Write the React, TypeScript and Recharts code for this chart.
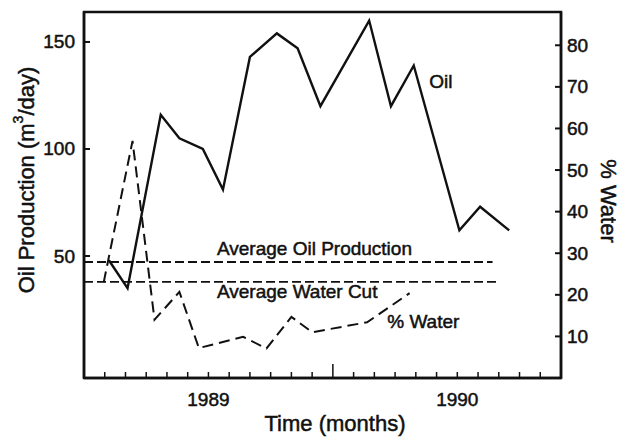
import React from "react";
import { ComposedChart, Line, XAxis, YAxis, ReferenceDot, ReferenceArea, Label } from "recharts";

// months counted from Jan 1989 (0 = 1989, 12 = 1990)
const oilMonths = [-4.8, -3.9, -2.3, -1.4, -0.27, 0.7, 2.0, 3.3, 4.3, 5.4, 7.75, 8.8, 9.9, 12.1, 13.1, 14.5];
const oilValues = [48, 35, 116, 105, 100, 81, 143, 154, 147, 120, 160, 120, 139, 62, 73, 62];

const waterMonths = [-5.05, -3.66, -2.6, -1.4, -0.46, 1.67, 2.8, 4.0, 5.0, 7.65, 9.7];
const waterValues = [23, 57, 14, 20.7, 7.2, 9.9, 7.1, 14.7, 11, 13.4, 20.4];

const avgOilValue = 47.2;
const avgOilSpan = [-6, 13.7];
const avgWaterValue = 23.1;
const avgWaterSpan = [-6, 14];

const monthTicks = [-5, -4, -3, -2, -1, 0, 1, 2, 3, 4, 5, 6, 7, 8, 9, 10, 11, 12, 13, 14, 15, 16];
const yearLabels: Record<number, string> = { 0: "1989", 12: "1990" };
const oilTicks = [50, 100, 150];
const waterTicks = [10, 20, 30, 40, 50, 60, 70, 80];

const oilData = oilMonths.map((m, i) => ({ m, v: oilValues[i] }));
const waterData = waterMonths.map((m, i) => ({ m, v: waterValues[i] }));
const avgOilData = avgOilSpan.map((m) => ({ m, v: avgOilValue }));
const avgWaterData = avgWaterSpan.map((m) => ({ m, v: avgWaterValue }));

const font = "'Liberation Sans', Arial, Helvetica, sans-serif";
const ink = "#111";
// scanned print looks heavier than a plain regular face
const heavy = { stroke: ink, strokeWidth: 0.5 };

const LeftTick = (props: any) => {
  const { x, y, payload } = props;
  return (
    <g>
      <line x1={x + 9} x2={x + 15} y1={y} y2={y} stroke={ink} strokeWidth={2} />
      <text x={x} y={y} textAnchor="end" dominantBaseline="central" fontSize={19} fontFamily={font} fill={ink} {...heavy}>
        {payload.value}
      </text>
    </g>
  );
};

const RightTick = (props: any) => {
  const { x, y, payload } = props;
  return (
    <g>
      <line x1={x - 6} x2={x - 12} y1={y} y2={y} stroke={ink} strokeWidth={2} />
      <text x={x} y={y} textAnchor="start" dominantBaseline="central" fontSize={19} fontFamily={font} fill={ink} {...heavy}>
        {payload.value}
      </text>
    </g>
  );
};

const MonthTick = (props: any) => {
  const { x, y, payload } = props;
  const len = payload.value === 6 ? 14 : 6;
  const label = yearLabels[payload.value];
  return (
    <g>
      <line x1={x} x2={x} y1={y} y2={y - len} stroke={ink} strokeWidth={1.5} />
      {label && (
        <text x={x} y={y + 28} textAnchor="middle" fontSize={19} fontFamily={font} fill={ink} {...heavy}>
          {label}
        </text>
      )}
    </g>
  );
};

const note = (text: string) => (p: any) => {
  const vb = p.viewBox || {};
  return (
    <text x={vb.x} y={vb.y} textAnchor="start" fontSize={19} fontFamily={font} fill={ink} {...heavy}>
      {text}
    </text>
  );
};

export default function App() {
  return (
    <div style={{ position: "absolute", left: 0, top: 0, background: "#fff" }}>
      <ComposedChart width={619} height={437} margin={{ top: 12, right: 0, bottom: 0, left: 0 }}>
        <XAxis
          dataKey="m"
          type="number"
          domain={[-6, 17]}
          ticks={monthTicks}
          interval={0}
          height={59}
          tickSize={0}
          tickMargin={0}
          tickLine={false}
          axisLine={{ stroke: ink, strokeWidth: 2.5 }}
          tick={<MonthTick />}
        >
          <Label
            content={() => (
              <text x={335} y={431} textAnchor="middle" fontSize={22} fontFamily={font} fill={ink} {...heavy}>
                Time (months)
              </text>
            )}
          />
        </XAxis>
        <YAxis
          yAxisId="left"
          orientation="left"
          type="number"
          domain={[-7, 164]}
          ticks={oilTicks}
          width={84}
          tickSize={0}
          tickMargin={9}
          tickLine={false}
          axisLine={{ stroke: ink, strokeWidth: 2.5 }}
          tick={<LeftTick />}
        >
          <Label
            content={() => (
              <text
                x={26}
                y={180}
                textAnchor="middle"
                dominantBaseline="central"
                fontSize={22}
                fontFamily={font}
                fill={ink}
                {...heavy}
                transform="rotate(-90, 26, 180)"
              >
                Oil Production (m<tspan dy={-8} fontSize={14}>3</tspan>
                <tspan dy={8}>/day)</tspan>
              </text>
            )}
          />
        </YAxis>
        <YAxis
          yAxisId="right"
          orientation="right"
          type="number"
          domain={[0, 88]}
          ticks={waterTicks}
          width={58}
          tickSize={0}
          tickMargin={6}
          tickLine={false}
          axisLine={{ stroke: ink, strokeWidth: 2.5 }}
          tick={<RightTick />}
        >
          <Label
            content={() => (
              <text
                x={608}
                y={201}
                textAnchor="middle"
                dominantBaseline="central"
                fontSize={22}
                fontFamily={font}
                fill={ink}
                {...heavy}
                transform="rotate(90, 608, 201)"
              >
                % Water
              </text>
            )}
          />
        </YAxis>

        <ReferenceArea yAxisId="left" x1={-6} x2={17} y1={-7} y2={164} fill="none" stroke={ink} strokeWidth={2.5} />

        <Line
          yAxisId="left"
          data={avgOilData}
          dataKey="v"
          type="linear"
          stroke={ink}
          strokeWidth={1.8}
          strokeDasharray="9 4"
          dot={false}
          activeDot={false}
          isAnimationActive={false}
        />
        <Line
          yAxisId="right"
          data={avgWaterData}
          dataKey="v"
          type="linear"
          stroke={ink}
          strokeWidth={1.8}
          strokeDasharray="9 4"
          dot={false}
          activeDot={false}
          isAnimationActive={false}
        />
        <Line
          yAxisId="right"
          data={waterData}
          dataKey="v"
          type="linear"
          stroke={ink}
          strokeWidth={2}
          strokeDasharray="11 6"
          dot={false}
          activeDot={false}
          isAnimationActive={false}
        />
        <Line
          yAxisId="left"
          data={oilData}
          dataKey="v"
          type="linear"
          stroke={ink}
          strokeWidth={2.4}
          dot={false}
          activeDot={false}
          isAnimationActive={false}
        />

        <ReferenceDot yAxisId="left" x={0.41} y={50.5} r={0} ifOverflow="visible" label={note("Average Oil Production")} />
        <ReferenceDot yAxisId="left" x={0.41} y={30.4} r={0} ifOverflow="visible" label={note("Average Water Cut")} />
        <ReferenceDot yAxisId="left" x={10.65} y={128.5} r={0} ifOverflow="visible" label={note("Oil")} />
        <ReferenceDot yAxisId="right" x={8.62} y={12} r={0} ifOverflow="visible" label={note("% Water")} />
      </ComposedChart>
    </div>
  );
}
